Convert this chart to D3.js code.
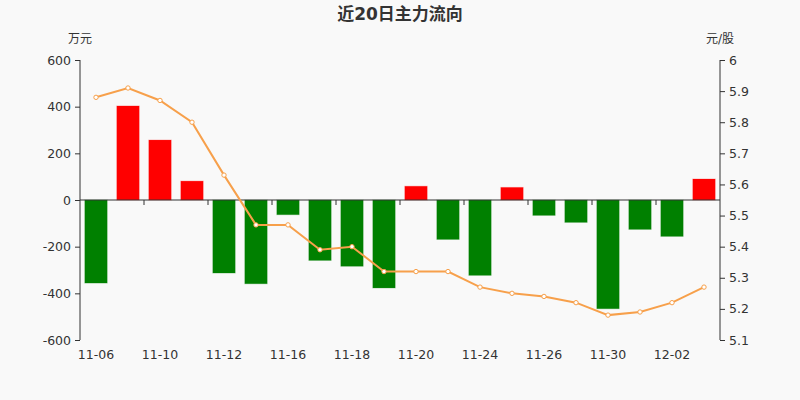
<!DOCTYPE html>
<html>
<head>
<meta charset="utf-8">
<script src="https://cdn.jsdelivr.net/npm/d3@7"></script>
<style>
  html, body { margin: 0; padding: 0; background: #f9f9f9; }
  text { font-family: "DejaVu Sans", "Noto Sans CJK SC", sans-serif; }
</style>
</head>
<body>
<div id="chart"></div>
<script>
// 日期、主力净流入(万元)、股价(元/股)
const dates = ['11-06', '11-09', '11-10', '11-11', '11-12', '11-13', '11-16', '11-17', '11-18', '11-19',
               '11-20', '11-23', '11-24', '11-25', '11-26', '11-27', '11-30', '12-01', '12-02', '12-03'];
const flows = [-356, 403, 257, 81, -313, -359, -63, -259, -284, -377,
               59, -169, -323, 54, -66, -96, -466, -126, -156, 90];
const prices = [5.88, 5.91, 5.87, 5.80, 5.63, 5.47, 5.47, 5.39, 5.40, 5.32,
                5.32, 5.32, 5.27, 5.25, 5.24, 5.22, 5.18, 5.19, 5.22, 5.27];
const leftTicks = [-600, -400, -200, 0, 200, 400, 600];
const rightTicks = [5.1, 5.2, 5.3, 5.4, 5.5, 5.6, 5.7, 5.8, 5.9, 6];

const width = 800, height = 400;
const margin = { top: 60, right: 80, bottom: 60, left: 80 };

const svg = d3.select('#chart')
    .append('svg')
    .attr('width', width)
    .attr('height', height);

svg.append('rect')
    .attr('width', width)
    .attr('height', height)
    .attr('fill', '#f9f9f9');

const x = d3.scaleBand()
    .domain(dates)
    .range([margin.left, width - margin.right]);

const yLeft = d3.scaleLinear()
    .domain([-600, 600])
    .range([height - margin.bottom, margin.top]);

const yRight = d3.scaleLinear()
    .domain([5.1, 6])
    .range([height - margin.bottom, margin.top]);

// 标题
svg.append('text')
    .attr('x', width / 2)
    .attr('y', 20)
    .attr('text-anchor', 'middle')
    .attr('font-size', 17)
    .attr('font-weight', 'bold')
    .attr('fill', '#333')
    .text('近20日主力流向');

// 单位
svg.append('text')
    .attr('x', 80)
    .attr('y', 43)
    .attr('text-anchor', 'middle')
    .attr('font-size', 12)
    .attr('fill', '#333')
    .text('万元');

svg.append('text')
    .attr('x', 720)
    .attr('y', 43)
    .attr('text-anchor', 'middle')
    .attr('font-size', 12)
    .attr('fill', '#333')
    .text('元/股');

// 柱子
const barW = x.bandwidth() * 0.7;
svg.append('g')
    .selectAll('rect')
    .data(flows)
    .enter()
    .append('rect')
    .attr('x', (d, i) => x(dates[i]) + (x.bandwidth() - barW) / 2)
    .attr('y', d => yLeft(Math.max(0, d)))
    .attr('width', barW)
    .attr('height', d => Math.abs(yLeft(d) - yLeft(0)))
    .attr('fill', d => d >= 0 ? '#ff0000' : '#008000')
    .attr('stroke', d => d >= 0 ? '#ff0000' : '#008000')
    .attr('stroke-opacity', 0.25)
    .attr('stroke-width', 1);

// 左轴
const leftAxis = svg.append('g')
    .attr('transform', `translate(${margin.left},0)`)
    .call(d3.axisLeft(yLeft).tickValues(leftTicks).tickSize(5).tickPadding(4)
        .tickFormat(d => String(d)));

// 右轴
const rightAxis = svg.append('g')
    .attr('transform', `translate(${width - margin.right},0)`)
    .call(d3.axisRight(yRight).tickValues(rightTicks).tickSize(5).tickPadding(4)
        .tickFormat(d => String(+d.toFixed(1))));

// X轴(零线)
const xAxisG = svg.append('g')
    .attr('transform', `translate(0,${yLeft(0)})`);

xAxisG.append('line')
    .attr('x1', margin.left)
    .attr('x2', width - margin.right)
    .attr('stroke', '#333');

// 刻度在柱子边界,每隔两个
xAxisG.selectAll('.xtick')
    .data(dates.filter((d, i) => i % 2 === 0 && i > 0))
    .enter()
    .append('line')
    .attr('x1', d => x(d))
    .attr('x2', d => x(d))
    .attr('y1', 0)
    .attr('y2', 5)
    .attr('stroke', '#333');

svg.append('g')
    .selectAll('text')
    .data(dates.filter((d, i) => i % 2 === 0))
    .enter()
    .append('text')
    .attr('x', d => x(d) + x.bandwidth() / 2)
    .attr('y', height - margin.bottom + 19)
    .attr('text-anchor', 'middle')
    .attr('font-size', 12.5)
    .attr('fill', '#333')
    .text(d => d);

[leftAxis, rightAxis].forEach(a => {
    a.select('.domain').attr('stroke', '#333');
    a.selectAll('.tick line').attr('stroke', '#333');
    a.selectAll('.tick text')
        .attr('font-size', 12.5)
        .attr('fill', '#333')
        .style('font-family', '"DejaVu Sans", sans-serif');
});
leftAxis.select('.domain').attr('d', `M-0,${margin.top}V${height - margin.bottom}`);
rightAxis.select('.domain').attr('d', `M0,${margin.top}V${height - margin.bottom}`);

// 股价折线
const line = d3.line()
    .x((d, i) => x(dates[i]) + x.bandwidth() / 2)
    .y(d => yRight(d));

svg.append('path')
    .datum(prices)
    .attr('d', line)
    .attr('fill', 'none')
    .attr('stroke', '#f7a04b')
    .attr('stroke-width', 2);

svg.append('g')
    .selectAll('circle')
    .data(prices)
    .enter()
    .append('circle')
    .attr('cx', (d, i) => x(dates[i]) + x.bandwidth() / 2)
    .attr('cy', d => yRight(d))
    .attr('r', 2.2)
    .attr('fill', '#fff')
    .attr('stroke', '#f7a04b')
    .attr('stroke-width', 1);
</script>
</body>
</html>
